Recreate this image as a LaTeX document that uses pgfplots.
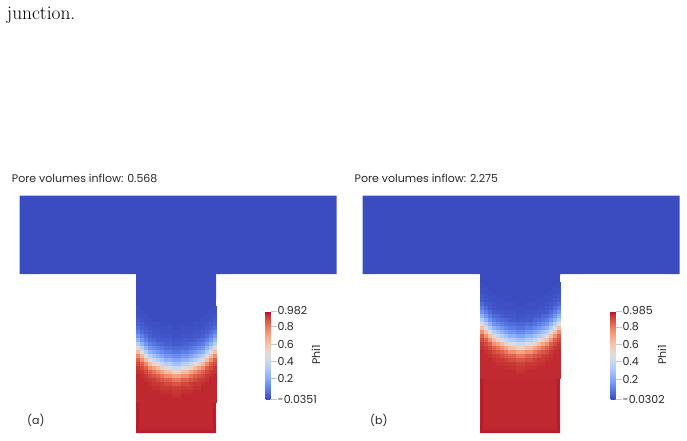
\documentclass[border=0pt]{standalone}
\usepackage{fontspec}
\setsansfont{Poppins}
\usepackage{pgfplots}
\pgfplotsset{compat=1.18}
\usepackage{pgfplotstable}
\usetikzlibrary{calc}

\definecolor{cwblue}{RGB}{59,76,192}
\definecolor{cwred}{RGB}{192,40,47}
\definecolor{cwdark}{RGB}{187,28,44}
\definecolor{txt}{RGB}{40,40,40}

\pgfplotsset{colormap={coolwarm}{rgb255=(59,76,192) rgb255=(68,90,204) rgb255=(77,104,215) rgb255=(87,117,225) rgb255=(98,130,234) rgb255=(108,142,241) rgb255=(119,154,247) rgb255=(130,165,251) rgb255=(141,176,254) rgb255=(152,185,255) rgb255=(163,194,255) rgb255=(174,201,253) rgb255=(184,208,249) rgb255=(194,213,244) rgb255=(204,217,238) rgb255=(213,219,230) rgb255=(221,221,221) rgb255=(229,216,209) rgb255=(236,211,197) rgb255=(241,204,185) rgb255=(245,196,173) rgb255=(247,187,160) rgb255=(247,177,148) rgb255=(247,166,135) rgb255=(244,154,123) rgb255=(241,141,111) rgb255=(236,127,99) rgb255=(229,112,88) rgb255=(222,96,77) rgb255=(213,80,66) rgb255=(203,62,56) rgb255=(192,40,47) rgb255=(180,4,38)}}

% Phi1 in the stem cells (left half; right half is its mirror), pixel rows
\pgfplotstableread{
y c1 c2 c3 c4 c5 c6 c7 c8 c9 c10
308 -0.024 -0.035 -0.035 -0.035 -0.035 -0.035 -0.035 -0.035 -0.035 -0.035
312 -0.024 -0.024 -0.035 -0.035 -0.035 -0.035 -0.035 -0.035 -0.035 -0.035
316 -0.014 -0.024 -0.024 -0.035 -0.035 -0.035 -0.035 -0.035 -0.035 -0.035
320 -0.003 -0.014 -0.024 -0.024 -0.035 -0.035 -0.035 -0.035 -0.035 -0.035
324 0.007 -0.003 -0.014 -0.024 -0.024 -0.024 -0.035 -0.035 -0.035 -0.035
328 0.039 0.007 -0.003 -0.014 -0.024 -0.024 -0.024 -0.024 -0.024 -0.035
332 0.082 0.039 0.007 -0.003 -0.014 -0.014 -0.024 -0.024 -0.024 -0.024
336 0.145 0.082 0.039 0.007 -0.003 -0.003 -0.014 -0.014 -0.014 -0.024
340 0.230 0.145 0.082 0.039 0.029 0.007 -0.003 -0.003 -0.003 -0.014
344 0.336 0.230 0.145 0.082 0.060 0.039 0.029 0.007 0.007 -0.003
348 0.463 0.336 0.230 0.145 0.113 0.082 0.060 0.039 0.039 0.029
352 0.632 0.463 0.336 0.230 0.187 0.145 0.113 0.082 0.082 0.060
356 0.759 0.632 0.463 0.336 0.283 0.230 0.187 0.145 0.145 0.113
360 0.855 0.759 0.632 0.463 0.399 0.336 0.283 0.230 0.230 0.187
364 0.897 0.855 0.759 0.632 0.548 0.463 0.399 0.336 0.336 0.283
368 0.929 0.897 0.855 0.759 0.706 0.632 0.548 0.463 0.463 0.399
372 0.939 0.929 0.897 0.855 0.812 0.759 0.706 0.632 0.632 0.548
376 0.950 0.939 0.929 0.897 0.876 0.855 0.812 0.759 0.759 0.706
380 0.950 0.950 0.939 0.929 0.918 0.897 0.876 0.855 0.855 0.812
384 0.950 0.950 0.950 0.939 0.929 0.929 0.918 0.897 0.897 0.876
388 0.950 0.950 0.950 0.950 0.939 0.939 0.929 0.929 0.929 0.918
392 0.950 0.950 0.950 0.950 0.950 0.950 0.939 0.939 0.939 0.929
396 0.950 0.950 0.950 0.950 0.950 0.950 0.950 0.950 0.950 0.939
400 0.950 0.950 0.950 0.950 0.950 0.950 0.950 0.950 0.950 0.950
}\front

\newcommand{\lab}{\sffamily\fontsize{11}{13}\selectfont}

\pgfplotsset{
  panel/.style={scale only axis, width=687pt, height=440pt,
    xmin=0, xmax=687, ymin=0, ymax=440, y dir=reverse,
    hide axis, clip=false, colormap name=coolwarm, colorbar},
  cbar/.style 2 args={colorbar style={
    at={($(parent axis.south west)+(#1pt,41pt)$)}, anchor=south west,
    width=5pt, height=88pt,
    ytick pos=right, yticklabel pos=right,
    tick align=outside, major tick length=6pt,
    ytick style={draw=black!22, line width=0.9pt},
    axis line style={draw=none},
    yticklabel style={font=\lab, text=txt, inner sep=1pt},
    #2}},
  cell/.style={scatter, only marks, mark=square*, mark size=2pt,
    scatter/use mapped color={draw=mapped color, fill=mapped color},
    mark options={line width=0.1pt}, point meta=explicit},
  mask/.style={fill=white, draw=none},
}

\begin{document}
\begin{tikzpicture}
\useasboundingbox (0,0) rectangle (687pt,440pt);

% ---------- panel (a) ----------
\begin{axis}[panel, point meta min=-0.0351, point meta max=0.982,
  cbar={257}{ytick={-0.0351,0.2,0.4,0.6,0.8,0.982},
              yticklabels={-0.0351,0.2,0.4,0.6,0.8,0.982}}]
\addplot[fill=cwblue, draw=none] coordinates {(19.5,195.5) (336.5,195.5) (336.5,274) (216,274) (216,433) (136,433) (136,274) (19.5,274)} -- cycle;
\pgfplotsinvokeforeach{1,...,10}{
  \addplot[cell] table[x expr={134+4*#1}, y=y, meta=c#1] {\front};
  \addplot[cell] table[x expr={218-4*#1}, y=y, meta=c#1] {\front};
}
\addplot[fill=cwred, draw=none] coordinates {(136,402) (216,402) (216,433) (136,433)} -- cycle;
\addplot[fill=cwdark, draw=none] coordinates {(136,392) (139,392) (139,433) (136,433)} -- cycle;
\addplot[fill=cwdark, draw=none] coordinates {(213,392) (216,392) (216,433) (213,433)} -- cycle;
\addplot[fill=cwdark, draw=none] coordinates {(136,430) (216,430) (216,433) (136,433)} -- cycle;
\addplot[mask] coordinates {(216,300) (221,300) (221,406) (216,406)} -- cycle;
\addplot[mask] coordinates {(131,300) (136,300) (136,406) (131,406)} -- cycle;
\node[anchor=base west, inner sep=0, font=\lab, text=txt] at (axis cs:11.7,182.7) {Pore volumes inflow: 0.568};
\node[rotate=90, inner sep=0, font=\lab, text=txt] at (axis cs:316,355) {Phi1};
\node[anchor=west, inner sep=0, font=\lab, text=txt] at (axis cs:27,420) {(a)};
\node[anchor=base west, inner sep=0, font=\rmfamily\fontsize{19.4}{22}\selectfont] at (axis cs:6.7,19.3) {junction.};
\end{axis}

% ---------- panel (b) ----------
\begin{axis}[panel, point meta min=-0.0302, point meta max=0.985,
  cbar={602}{ytick={-0.0302,0.2,0.4,0.6,0.8,0.985},
              yticklabels={-0.0302,0.2,0.4,0.6,0.8,0.985}}]
\addplot[fill=cwblue, draw=none] coordinates {(362.5,195.5) (679.5,195.5) (679.5,274) (560,274) (560,433) (480,433) (480,274) (362.5,274)} -- cycle;
\pgfplotsinvokeforeach{1,...,10}{
  \addplot[cell] table[x expr={478+4*#1}, y expr={\thisrow{y}-24}, meta=c#1] {\front};
  \addplot[cell] table[x expr={562-4*#1}, y expr={\thisrow{y}-24}, meta=c#1] {\front};
}
\addplot[fill=cwred, draw=none] coordinates {(480,378) (560,378) (560,433) (480,433)} -- cycle;
\addplot[fill=cwdark, draw=none] coordinates {(480,368) (483,368) (483,433) (480,433)} -- cycle;
\addplot[fill=cwdark, draw=none] coordinates {(557,368) (560,368) (560,433) (557,433)} -- cycle;
\addplot[fill=cwdark, draw=none] coordinates {(480,430) (560,430) (560,433) (480,433)} -- cycle;
\addplot[mask] coordinates {(560,276) (565,276) (565,382) (560,382)} -- cycle;
\addplot[mask] coordinates {(475,276) (480,276) (480,382) (475,382)} -- cycle;
\node[anchor=base west, inner sep=0, font=\lab, text=txt] at (axis cs:354.5,182.7) {Pore volumes inflow: 2.275};
\node[rotate=90, inner sep=0, font=\lab, text=txt] at (axis cs:662,355) {Phi1};
\node[anchor=west, inner sep=0, font=\lab, text=txt] at (axis cs:370,420) {(b)};
\end{axis}
\end{tikzpicture}
\end{document}
